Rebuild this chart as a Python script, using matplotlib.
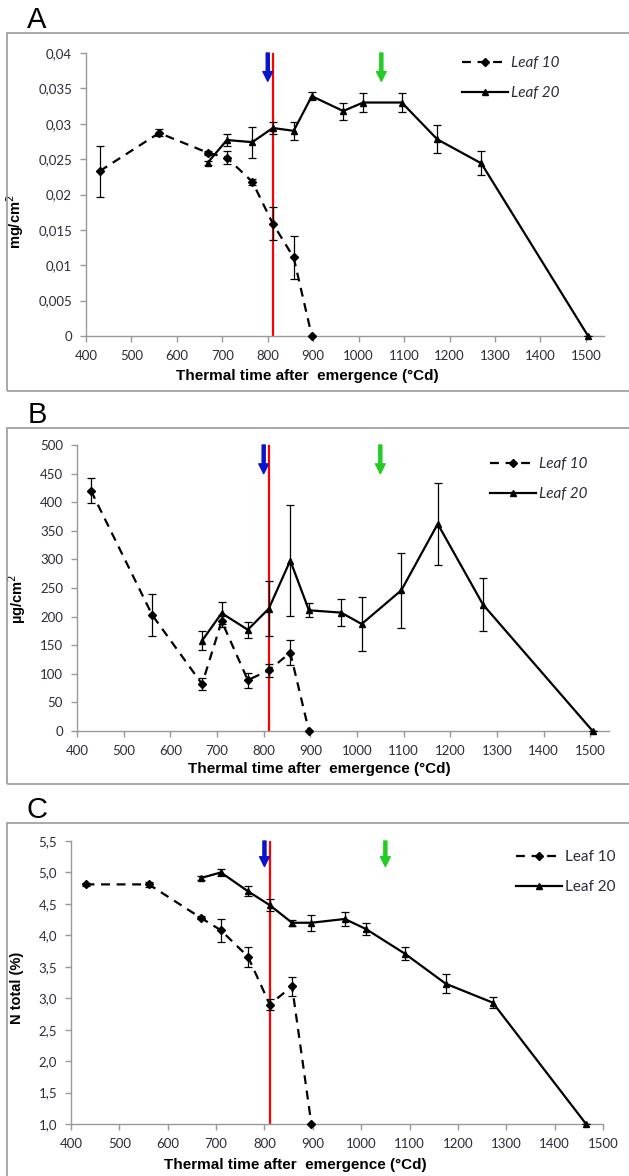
import numpy as np
import matplotlib
matplotlib.use('Agg')
import matplotlib.pyplot as plt
from matplotlib.patches import Rectangle
from matplotlib.ticker import FuncFormatter, MultipleLocator

W, H = 629, 1176
FONT = ['Lato', 'DejaVu Sans']
BOLD = ['Liberation Sans', 'DejaVu Sans']
plt.rcParams['font.family'] = FONT

# thermal time (°Cd)
t10 = [430, 561, 668, 710, 766, 811, 857, 897]
t20 = [668, 710, 766, 811, 857, 897, 966, 1010, 1095, 1173, 1270, 1505]
t20_c = [668, 710, 766, 811, 857, 897, 966, 1010, 1090, 1175, 1272, 1465]

# A : mg/cm2
a10 = [0.0233, 0.0287, 0.0259, 0.0252, 0.0218, 0.0159, 0.0111, 0.0]
a10_err = [0.0036, 0.0005, 0.0003, 0.0009, 0.0004, 0.0024, 0.0030, 0.0]
a20 = [0.0245, 0.0277, 0.0274, 0.0294, 0.0290, 0.0339, 0.0318, 0.0330, 0.0330, 0.0278, 0.0244, 0.0]
a20_err = [0.0003, 0.0008, 0.0022, 0.0009, 0.0013, 0.0006, 0.0012, 0.0013, 0.0013, 0.0020, 0.0017, 0.0]

# B : µg/cm2
b10 = [420, 203, 82, 192, 89, 106, 137, 0]
b10_err = [22, 37, 10, 10, 13, 11, 22, 0]
b20 = [158, 206, 177, 214, 298, 211, 207, 187, 246, 362, 221, 0]
b20_err = [17, 19, 14, 48, 97, 12, 24, 47, 66, 71, 46, 0]

# C : N total (%)
c10 = [4.81, 4.81, 4.28, 4.08, 3.66, 2.90, 3.19, 1.0]
c10_err = [0.03, 0.04, 0.02, 0.18, 0.16, 0.08, 0.15, 0.0]
c20 = [4.91, 5.00, 4.70, 4.48, 4.20, 4.20, 4.26, 4.10, 3.71, 3.23, 2.93, 1.0]
c20_err = [0.03, 0.05, 0.08, 0.10, 0.05, 0.13, 0.11, 0.10, 0.10, 0.15, 0.09, 0.0]

blue_arrow = 800
green_arrow = 1050
red_line = 812

fig = plt.figure(figsize=(W / 100, H / 100), dpi=100)


def fx(x):
    return x / W


def fy(y):
    return 1 - y / H


def panel(letter, box, axbox, x10, y10, e10, x20, y20, e20, xmax, ylim, ystep,
          fmt, ylabel, ylab_xy, xlab_xy, leg_xy, italic, arrow_len):
    # grey frame of the panel
    bx0, by0, bx1, by1 = box
    fig.add_artist(Rectangle((fx(bx0), fy(by1)), fx(bx1 - bx0), (by1 - by0) / H,
                             transform=fig.transFigure, fill=False,
                             edgecolor='#9a9a9a', lw=1.2))
    fig.text(fx(bx0 + 30), fy(by0 - 13), letter, fontsize=21,
             family='Liberation Sans', ha='center', va='center')

    l, t, r, b = axbox
    ax = fig.add_axes([fx(l), fy(b), fx(r - l), (b - t) / H])
    ax.set_xlim(400, xmax)
    ax.set_ylim(*ylim)
    for s in ['top', 'right']:
        ax.spines[s].set_visible(False)
    for s in ['left', 'bottom']:
        ax.spines[s].set_color('#999999')
        ax.spines[s].set_linewidth(1.0)
    ax.xaxis.set_major_locator(MultipleLocator(100))
    ax.yaxis.set_major_locator(MultipleLocator(ystep))
    ax.yaxis.set_major_formatter(FuncFormatter(fmt))
    ax.xaxis.set_major_formatter(FuncFormatter(lambda v, p: '%d' % v if v <= 1500 else ''))
    ax.tick_params(axis='both', direction='out', color='#999999', length=4,
                   width=1.0, labelsize=9.5, labelcolor='#2b2b3b')
    ax.tick_params(axis='x', pad=6)
    ax.tick_params(axis='y', pad=6)

    ax.axvline(red_line, color='red', lw=1.6, zorder=1)

    ax.errorbar(x10, y10, yerr=e10, fmt='none', ecolor='black', elinewidth=0.9,
                capsize=3, capthick=0.9, zorder=3)
    ax.errorbar(x20, y20, yerr=e20, fmt='none', ecolor='black', elinewidth=0.9,
                capsize=3, capthick=0.9, zorder=3)
    ax.plot(x10, y10, color='black', lw=1.6, ls=(0, (4, 3)), marker='D', ms=3.8,
            label='Leaf 10', zorder=4, clip_on=False)
    ax.plot(x20, y20, color='black', lw=1.6, marker='^', ms=4.5,
            label='Leaf 20', zorder=4, clip_on=False)

    for xa, col in [(blue_arrow, '#0a14c8'), (green_arrow, '#22cc22')]:
        ax.annotate('', xy=(xa, 1 - arrow_len), xytext=(xa, 1.0),
                    xycoords=('data', 'axes fraction'),
                    textcoords=('data', 'axes fraction'),
                    arrowprops=dict(color=col, width=2.2, headwidth=7,
                                    headlength=7, shrink=0))

    ax.set_ylabel(ylabel, fontsize=10.5, fontweight='bold', color='black',
                  family=BOLD)
    ax.yaxis.set_label_coords((ylab_xy[0] - l) / (r - l), (b - ylab_xy[1]) / (b - t))
    ax.set_xlabel('Thermal time after  emergence (°Cd)', fontsize=11,
                  fontweight='bold', color='black', family=BOLD)
    ax.xaxis.label.set_va('center')
    ax.xaxis.set_label_coords((xlab_xy[0] - l) / (r - l), (b - xlab_xy[1]) / (b - t))

    style = 'italic' if italic else 'normal'
    ax.legend(loc='upper left', bbox_to_anchor=(fx(leg_xy[0]), fy(leg_xy[1])),
              bbox_transform=fig.transFigure, frameon=False, handlelength=3.0,
              handletextpad=0.2, labelspacing=1.05, borderpad=0, borderaxespad=0,
              numpoints=1, prop=dict(family=FONT, style=style, size=11),
              labelcolor='#2b2b3b')
    return ax


comma = lambda v, p: ('%g' % round(v, 4)).replace('.', ',')
comma1 = lambda v, p: ('%.1f' % v).replace('.', ',')
whole = lambda v, p: '%d' % v

panel('A', (7, 33, 640, 391), (86, 53, 604, 336),
      t10, a10, a10_err, t20, a20, a20_err, 1540, (0, 0.04), 0.005, comma,
      'mg/cm$^2$', (26, 222), (307, 376), (462, 56), True, 0.1)

panel('B', (7, 428, 640, 784), (77, 445, 609, 731),
      t10, b10, b10_err, t20, b20, b20_err, 1540, (0, 500), 50, whole,
      'µg/cm$^2$', (28, 599), (319, 769), (490, 457), True, 0.1)

panel('C', (7, 823, 640, 1200), (71, 841, 603, 1124),
      t10, c10, c10_err, t20_c, c20, c20_err, 1500, (1.0, 5.5), 0.5, comma1,
      'N total (%)', (24, 988), (295, 1165), (516, 850), False, 0.09)

fig.savefig('out.png', dpi=100)
